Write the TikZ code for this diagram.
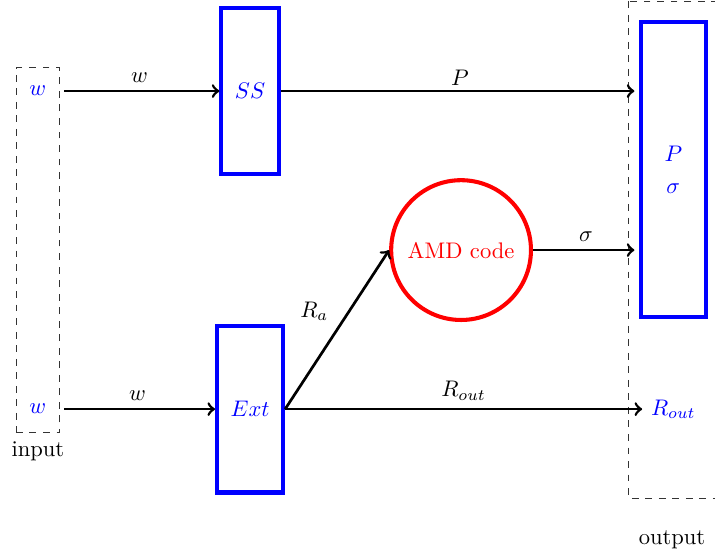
\documentclass[tikz,border=0pt]{standalone}
\usetikzlibrary{fit}
\begin{document}
\begin{tikzpicture}[
  blk/.style={rectangle, draw=blue, line width=1.8pt, text=blue, minimum height=2.6cm, inner xsep=6pt},
  io/.style={text=blue, minimum width=0.64cm, minimum height=0.69cm, inner sep=0pt},
  dbox/.style={draw=black!80, dashed, thin},
  line width=1.2pt
]
  \useasboundingbox (0,0) rectangle (11.15,-8.7);
  \node[io] (w1) at (0.59,-1.42) {$w$};
  \node[io] (w2) at (0.59,-6.38) {$w$};
  \node[dbox, fit=(w1)(w2), inner sep=0pt, label={[black]below:input}] (inbox) {};

  \node[blk] (ss) at (3.9,-1.42) {$SS$};
  \node[blk] (ext) at (3.9,-6.38) {$Ext$};
  \node[circle, draw=red, line width=1.8pt, text=red, minimum size=2.18cm] (amd) at (7.19,-3.9) {AMD code};
  \node[blk, minimum width=1.01cm, minimum height=4.6cm, align=center] (pbox) at (10.5,-2.65) {$P$\\[2pt]$\sigma$};
  \node[text=blue] (rout) at (10.5,-6.38) {$R_{out}$};
  \draw[dbox] (9.8,-0.02) rectangle (11.5,-7.77);
  \node (outlbl) at (10.48,-8.42) {output};

  \draw[->, shorten <=2pt] (w1.east) -- node[above] {$w$} (ss.west);
  \draw[->, shorten >=2pt] (ss.east) -- node[above=-1.5pt] {$P$} (ss.east -| pbox.west);
  \draw[->, shorten <=2pt] (w2.east) -- node[above] {$w$} (ext.west);
  \draw[->] (ext.east) -- node[above left] {$R_a$} (amd.west);
  \draw[->] (ext.east) -- node[above] {$R_{out}$} (rout.west);
  \draw[->, shorten >=2pt] (amd.east) -- node[above] {$\sigma$} (amd.east -| pbox.west);
\end{tikzpicture}
\end{document}
